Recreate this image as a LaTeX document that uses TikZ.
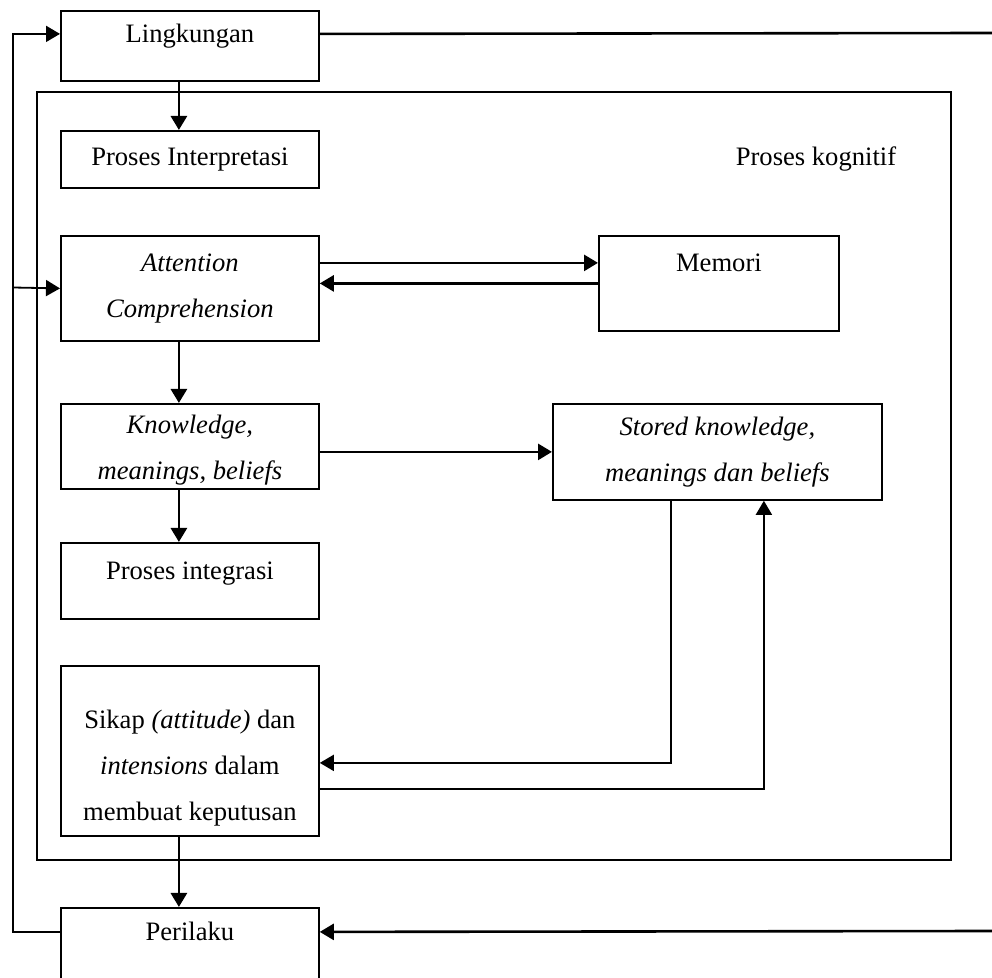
\documentclass[tikz,border=0pt]{standalone}
\usepackage{fontspec}
\setmainfont{Liberation Serif}
\usetikzlibrary{positioning,arrows.meta}

\begin{document}
\begin{tikzpicture}[x=0.5pt,y=-0.5pt,
    kotak/.style={draw,line width=0.9pt,minimum width=129pt,anchor=north west,align=center,inner sep=2pt,font=\fontsize{13.3pt}{23pt}\selectfont},
    panah/.style={-{Triangle[length=7pt,width=8pt]},line width=1.3pt}]
    \useasboundingbox (0,0) rectangle (992,978);
    \clip (0,0) rectangle (992,978);
    \node[draw,line width=0.9pt,minimum width=457pt,minimum height=384pt,anchor=north west] (kognitif) at (36,91) {};
    \node[font=\fontsize{13.3pt}{23pt}\selectfont] (kognitiflabel) at (816,159) {Proses kognitif};
    \node[kotak,minimum height=35pt,text depth=13pt] (ling) at (60,10) {Lingkungan};
    \node[kotak,minimum height=28.5pt] (interp) at (60,130) {Proses Interpretasi};
    \node[kotak,minimum height=52.5pt] (attn) at (60,235) {\textit{Attention}\\\textit{Comprehension}};
    \node[kotak,minimum width=120pt,minimum height=47.5pt,text depth=21pt] (memori) at (598,235) {Memori};
    \node[kotak,minimum height=42.5pt,inner sep=0pt] (know) at (60,403) {\rule{0pt}{13pt}\textit{Knowledge,}\\\textit{meanings, beliefs}};
    \node[kotak,minimum width=164.5pt,minimum height=48pt] (stored) at (552,403) {\textit{Stored knowledge,}\\\textit{meanings dan beliefs}};
    \node[kotak,minimum height=38pt,text depth=9.8pt] (integ) at (60,542) {Proses integrasi};
    \node[kotak,minimum height=85pt] (sikap) at (60,665) {\rule{0pt}{26pt}Sikap \textit{(attitude)} dan\\\textit{intensions} dalam\\membuat keputusan};
    \node[kotak,minimum height=40pt,text depth=17pt] (perilaku) at (60,907) {Perilaku};

    \coordinate (kiri) at (13,287.5);
    \coordinate (kananatas) at (992,33);
    \coordinate (kananbawah) at (992,931);

    % alur utama
    \draw[panah] ([xshift=-5.5pt]ling.south) -- ([xshift=-5.5pt]interp.north);
    \draw[panah] ([xshift=-5.5pt]attn.south) -- ([xshift=-5.5pt]know.north);
    \draw[panah] ([xshift=-5.5pt]know.south) -- ([xshift=-5.5pt]integ.north);
    \draw[panah] ([xshift=-5.5pt]sikap.south) -- ([xshift=-5.5pt]perilaku.north);

    % memori dan pengetahuan tersimpan
    \draw[panah] ([yshift=12.75pt]attn.east) -- ([yshift=12.75pt]attn.east -| memori.west);
    \draw[panah] (memori.west) -- (memori.west -| attn.east);
    \draw[panah] (stored.west -| know.east) -- (stored.west);
    \draw[panah,line width=0.9pt] ([xshift=-23.25pt]stored.south) |- ([yshift=-6pt]sikap.east);
    \draw[panah,line width=0.9pt] ([yshift=-19pt]sikap.east) -| ([xshift=23.25pt]stored.south);

    % umpan balik
    \draw[panah,line width=0.9pt] ([yshift=8pt]perilaku.west) -| (kiri) |- ([yshift=6pt]ling.west);
    \draw[panah,line width=0.9pt] (kiri) -- (attn.west);
    \draw[line width=1.3pt] ([yshift=6pt]ling.east) -- (kananatas);
    \draw[panah] (kananbawah) -- ([yshift=8pt]perilaku.east);
\end{tikzpicture}
\end{document}
